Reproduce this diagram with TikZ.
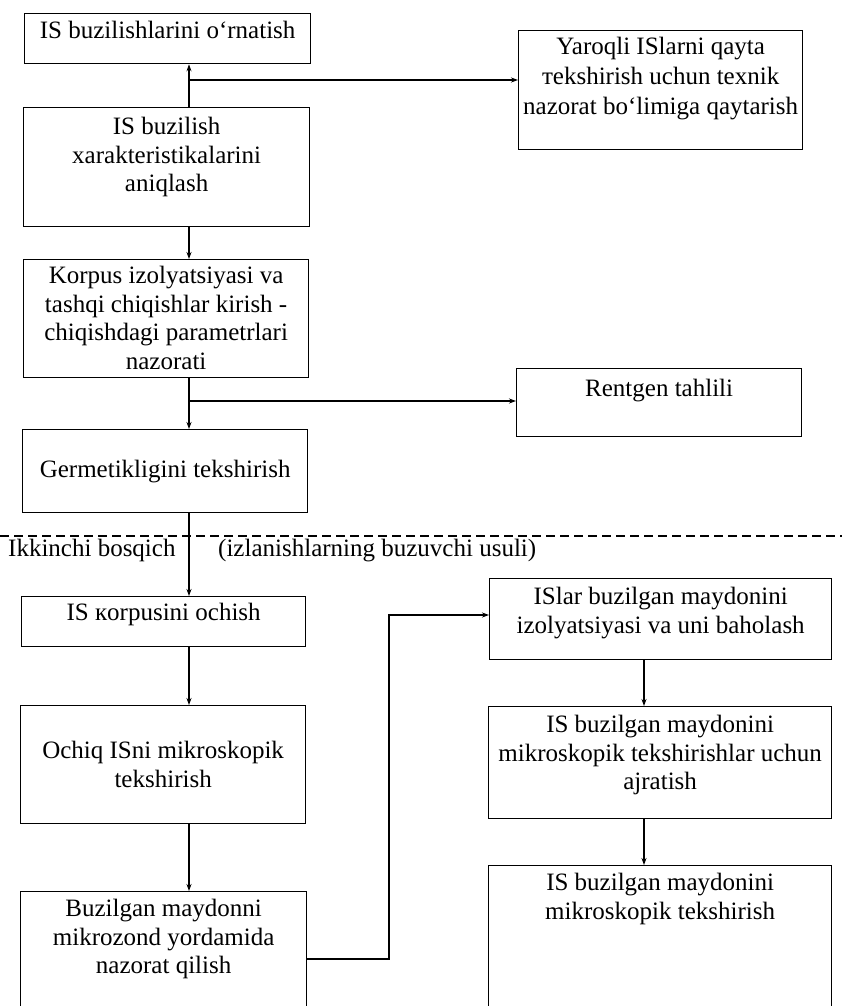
\documentclass[tikz,border=0pt]{standalone}
\usepackage{fontspec}
\setmainfont{Liberation Serif}
\usetikzlibrary{arrows.meta}
\tikzset{
  box/.style={draw, line width=1.3pt, inner sep=0pt, anchor=north west},
  txt/.style={inner sep=0pt, align=center, font=\fontsize{25}{28.5}\selectfont},
  txtw/.style={inner sep=0pt, align=center, font=\fontsize{25}{30}\selectfont},
  lbl/.style={inner sep=0pt, anchor=base west, font=\fontsize{25}{28.5}\selectfont},
  arr/.style={line width=1.1pt, -{Stealth[length=7pt,width=5pt]}},
  sep/.style={line width=1.1pt, dash pattern=on 9pt off 5pt}
}
\begin{document}
\begin{tikzpicture}[x=1pt,y=-1pt]
\useasboundingbox (0,0) rectangle (842,1006);
\clip (0,0) rectangle (842,1006);
\fill[white] (0,0) rectangle (842,1006);

% left column boxes
\node[box, minimum width=286pt, minimum height=50pt]  (b1)  at (24,13)  {};
\node[box, minimum width=286pt, minimum height=119pt] (b2)  at (23,107) {};
\node[box, minimum width=285pt, minimum height=118pt] (b3)  at (23,259) {};
\node[box, minimum width=285pt, minimum height=83pt]  (b4)  at (22,429) {};
\node[box, minimum width=284pt, minimum height=50pt]  (b5)  at (21,596) {};
\node[box, minimum width=285pt, minimum height=118pt] (b6)  at (20,705) {};
\node[box, minimum width=286pt, minimum height=139pt] (b7)  at (20,891) {};
% right column boxes
\node[box, minimum width=284pt, minimum height=119pt] (r1)  at (518,30)  {};
\node[box, minimum width=285pt, minimum height=68pt]  (r2)  at (516,368) {};
\node[box, minimum width=342pt, minimum height=81pt]  (b8)  at (489,578) {};
\node[box, minimum width=343pt, minimum height=112pt] (b9)  at (488,706) {};
\node[box, minimum width=343pt, minimum height=165pt] (b10) at (488,865) {};

% texts
\node[txt, anchor=north] (t1) at ([yshift=-8pt]b1.north) {IS buzilishlarini o‘rnatish};
\node[txt, anchor=north] (t2) at ([yshift=-10pt]b2.north) {IS buzilish\\xarakteristikalarini\\aniqlash};
\node[txt, anchor=north] (t3) at ([yshift=-7pt]b3.north) {Korpus izolyatsiyasi va\\tashqi chiqishlar kirish -\\chiqishdagi parametrlari\\nazorati};
\node[txt] (t4) at (b4.center) {Germetikligini tekshirish};
\node[txt, anchor=north] (t5) at ([yshift=-7pt]b5.north) {IS кorpusini ochish};
\node[txt] (t6) at (b6.center) {Ochiq ISni mikroskopik\\tekshirish};
\node[txt, anchor=north] (t7) at ([yshift=-8pt]b7.north) {Buzilgan maydonni\\mikrozond yordamida\\nazorat qilish};
\node[txtw, anchor=north] (tr1) at ([yshift=-7pt]r1.north) {Yaroqli ISlarni qayta\\тekshirish uchun texnik\\nazorat bo‘limiga qaytarish};
\node[txt, anchor=north] (tr2) at ([yshift=-11pt]r2.north) {Rentgen tahlili};
\node[txt, anchor=north] (t8) at ([yshift=-9pt]b8.north) {ISlar buzilgan maydonini\\izolyatsiyasi va uni baholash};
\node[txt, anchor=north] (t9) at ([yshift=-9pt]b9.north) {IS buzilgan maydonini\\mikroskopik tekshirishlar uchun\\ajratish};
\node[txt, anchor=north] (t10) at ([yshift=-8pt]b10.north) {IS buzilgan maydonini\\mikroskopik tekshirish};

% separator
\coordinate (sL) at (0,536);
\coordinate (sR) at (842,536);
\draw[sep] (sL) -- (sR);
\node[lbl] (s1) at (8,556) {Ikkinchi bosqich};
\node[lbl] (s2) at (218,556) {(izlanishlarning buzuvchi usuli)};

% connector columns
\coordinate (cL) at (189,0);
\coordinate (cR) at (644,0);
\coordinate (j1) at (189,80);
\coordinate (j2) at (189,401);
\coordinate (k1) at (389,959);
\coordinate (k2) at (389,615);

\draw[arr] (b2.north -| cL) -- (b1.south -| cL);
\draw[arr] (j1) -- (j1 -| r1.west);
\draw[arr] (b2.south -| cL) -- (b3.north -| cL);
\draw[arr] (b3.south -| cL) -- (b4.north -| cL);
\draw[arr] (j2) -- (j2 -| r2.west);
\draw[arr] (b4.south -| cL) -- (b5.north -| cL);
\draw[arr] (b5.south -| cL) -- (b6.north -| cL);
\draw[arr] (b6.south -| cL) -- (b7.north -| cL);
\draw[arr] (b7.east |- k1) -- (k1) -- (k2) -- (k2 -| b8.west);
\draw[arr] (b8.south -| cR) -- (b9.north -| cR);
\draw[arr] (b9.south -| cR) -- (b10.north -| cR);
\end{tikzpicture}
\end{document}
